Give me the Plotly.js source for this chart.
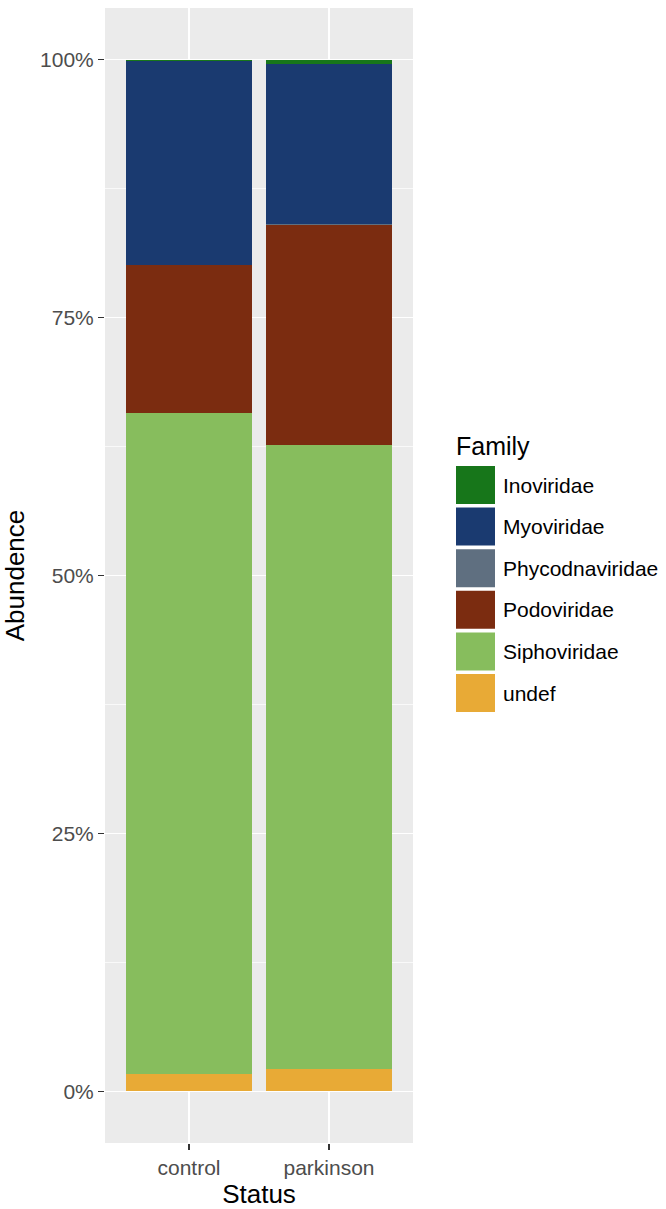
<!DOCTYPE html>
<html>
<head>
<meta charset="utf-8">
<script src="https://cdn.plot.ly/plotly-3.0.1.min.js"></script>
<style>
html,body{margin:0;padding:0;background:#fff;}
#chart{width:666px;height:1209px;}
</style>
</head>
<body>
<div id="chart"></div>
<script>
// ---- data (percent of reads) ----
const categories = ['control', 'parkinson'];
const families = ['Inoviridae', 'Myoviridae', 'Phycodnaviridae', 'Podoviridae', 'Siphoviridae', 'undef'];
const familyColors = ['#17761a', '#1a3a70', '#5f6f80', '#7b2c10', '#87bd5d', '#e8aa36'];
const inoviridae = [0.1, 0.45];
const myoviridae = [19.8, 15.5];
const phycodnaviridae = [0.02, 0.05];
const podoviridae = [14.3, 21.4];
const siphoviridae = [64.13, 60.4];
const undef = [1.65, 2.2];
const yTickVals = [0, 25, 50, 75, 100];
const yTickText = ['0%', '25%', '50%', '75%', '100%'];

const seriesValues = [inoviridae, myoviridae, phycodnaviridae, podoviridae, siphoviridae, undef];

const FONT = '"Liberation Sans", Arial, sans-serif';

// stacking: last family at bottom
const traces = [];
for (let i = families.length - 1; i >= 0; i--) {
  traces.push({
    type: 'bar',
    name: families[i],
    x: categories,
    y: seriesValues[i],
    marker: {color: familyColors[i], line: {width: 0}},
    showlegend: false,
    hoverinfo: 'x+y+name'
  });
}

// plot area geometry
const W = 666, H = 1209;
const mL = 105, mR = 253, mT = 8, mB = 66;
const pw = W - mL - mR, ph = H - mT - mB;
const px2x = px => (px - mL) / pw;
const py2y = py => (H - mB - py) / ph;

// manual legend (ggplot style)
const shapes = [];
const annotations = [];
const keyLeft = 456, keyW = 39, keyH = 38, keyTop0 = 466, pitch = 41.6;
annotations.push({
  xref: 'paper', yref: 'paper', x: px2x(keyLeft - 2), y: py2y(446),
  xanchor: 'left', yanchor: 'middle', showarrow: false,
  text: 'Family', font: {family: FONT, size: 25, color: '#000'}
});
families.forEach((f, i) => {
  const top = keyTop0 + i * pitch;
  shapes.push({
    type: 'rect', xref: 'paper', yref: 'paper',
    x0: px2x(keyLeft), x1: px2x(keyLeft + keyW),
    y0: py2y(top + keyH), y1: py2y(top),
    fillcolor: familyColors[i], line: {width: 0}
  });
  annotations.push({
    xref: 'paper', yref: 'paper', x: px2x(501), y: py2y(top + keyH / 2),
    xanchor: 'left', yanchor: 'middle', showarrow: false,
    text: f, font: {family: FONT, size: 21, color: '#000'}
  });
});

const layout = {
  width: W, height: H,
  margin: {l: mL, r: mR, t: mT, b: mB, pad: 0},
  paper_bgcolor: '#ffffff',
  plot_bgcolor: '#ebebeb',
  barmode: 'stack',
  bargap: 0.1,
  showlegend: false,
  font: {family: FONT, size: 21, color: '#4d4d4d'},
  xaxis: {
    type: 'category',
    range: [-0.6, 1.6],
    showgrid: true, gridcolor: '#ffffff', gridwidth: 1.5,
    zeroline: false, showline: false,
    ticks: 'outside', ticklen: 6, tickwidth: 1.5, tickcolor: '#333333',
    tickfont: {family: FONT, size: 21, color: '#4d4d4d'},
    title: {text: 'Status', font: {family: FONT, size: 26, color: '#000'}, standoff: 8},
    fixedrange: true
  },
  yaxis: {
    range: [-5, 105],
    tickvals: yTickVals, ticktext: yTickText,
    showgrid: true, gridcolor: '#ffffff', gridwidth: 1.5,
    minor: {dtick: 12.5, tick0: 0, showgrid: true, gridcolor: '#ffffff', gridwidth: 0.7, ticks: ''},
    zeroline: false, showline: false,
    ticks: 'outside', ticklen: 6, tickwidth: 1.5, tickcolor: '#333333',
    tickfont: {family: FONT, size: 21, color: '#4d4d4d'},
    title: {text: 'Abundence', font: {family: FONT, size: 26, color: '#000'}, standoff: 10},
    fixedrange: true
  },
  shapes: shapes,
  annotations: annotations
};

Plotly.newPlot('chart', traces, layout, {displayModeBar: false, staticPlot: true});
</script>
</body>
</html>
